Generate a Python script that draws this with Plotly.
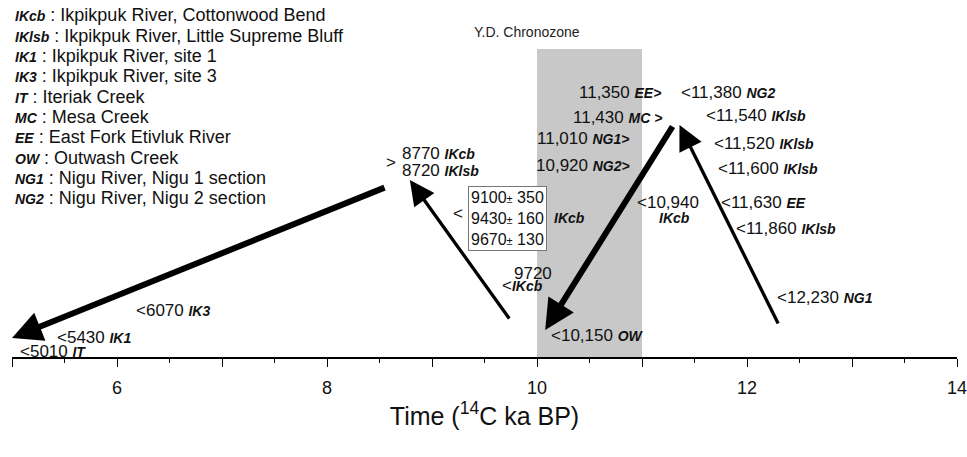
import plotly.graph_objects as go

# ---------------- data ----------------
# Age axis (14C ka BP)
x_range = [5, 14]
tick_vals = [5, 6, 7, 8, 9, 10, 11, 12, 13, 14]
tick_text = ["", "6", "", "8", "", "10", "", "12", "", "14"]

# Younger Dryas chronozone (ka)
yd_start = 10.0
yd_end = 11.0
yd_top = 308          # height of grey band (arbitrary vertical units)
yd_label_x = 9.907
yd_label_y = 325

# Arrows: tail -> tip (x in ka, y in arbitrary vertical units)
arrow_tail_x = [8.562, 9.746, 11.300, 12.304]
arrow_tail_y = [170, 37, 232, 32]
arrow_tip_x = [5.0, 8.789, 10.078, 11.357]
arrow_tip_y = [19, 177, 27, 232]
arrow_width = [6, 3.3, 6, 3.3]
arrow_size = [1.0, 1.5, 1.0, 1.5]

# Date labels: (number part, site part)
label_num = [">", "8770", "8720", "<", "", "9720", "<",
             "<6070", "<5430", "<5010", "<10,150",
             "<10,940", "", "11,350", "11,430", "11,010", "10,920",
             "<11,380", "<11,540", "<11,520", "<11,600", "<11,630",
             "<11,860", "<12,230"]
label_site = ["", "IKcb", "IKlsb", "", "IKcb", "", "IKcb",
              "IK3", "IK1", "IT", "OW",
              "", "IKcb", "EE>", "MC >", "NG1>", "NG2>",
              "NG2", "IKlsb", "IKlsb", "IKlsb", "EE",
              "IKlsb", "NG1"]
label_x = [8.543, 8.695, 8.695, 9.178, 10.144, 9.765, 9.651,
           6.165, 5.407, 5.057, 10.116,
           10.930, 11.139, 10.381, 10.324, 9.983, 9.973,
           11.357, 11.594, 11.670, 11.708, 11.736,
           11.878, 12.266]
label_y = [195, 204, 187, 144, 139, 84, 72,
           47, 20, 6, 22,
           155, 139, 265, 240, 219, 192,
           265, 242, 214, 189, 155,
           129, 60]

# Boxed IKcb dates
box_dates = ["9100", "9430", "9670"]
box_err = ["350", "160", "130"]
box_x = 9.718
box_y = 139

# Site key
key_code = ["IKcb", "IKlsb", "IK1", "IK3", "IT", "MC", "EE", "OW", "NG1", "NG2"]
key_name = ["Ikpikpuk River, Cottonwood Bend", "Ikpikpuk River, Little Supreme Bluff",
            "Ikpikpuk River, site 1", "Ikpikpuk River, site 3", "Iteriak Creek",
            "Mesa Creek", "East Fork Etivluk River", "Outwash Creek",
            "Nigu River, Nigu 1 section", "Nigu River, Nigu 2 section"]
key_x = 5.01
key_y = [342, 321, 301, 281, 260, 240, 220, 199, 179, 159]

# ---------------- figure ----------------
FONT = "Liberation Sans, Arial, sans-serif"
NUM_SIZE = 17
SITE_SIZE = 14


def esc(s):
    return s.replace("<", "&lt;").replace(">", "&gt;")


def site_html(s):
    if not s:
        return ""
    return '<b><i><span style="font-size:%dpx">%s</span></i></b>' % (SITE_SIZE, esc(s))


fig = go.Figure()

# invisible trace to establish axes
fig.add_trace(go.Scatter(x=x_range, y=[0, 0], mode="markers",
                         marker=dict(opacity=0), hoverinfo="skip", showlegend=False))

fig.add_shape(type="rect", x0=yd_start, x1=yd_end, y0=0, y1=yd_top,
              xref="x", yref="y", fillcolor="#c8c8c8", line=dict(width=0), layer="below")

annotations = []
annotations.append(dict(x=yd_label_x, y=yd_label_y, xref="x", yref="y",
                        text="Y.D. Chronozone", showarrow=False,
                        font=dict(family=FONT, size=14, color="#222")))

for tx, ty, hx, hy, w, s in zip(arrow_tail_x, arrow_tail_y, arrow_tip_x, arrow_tip_y,
                                arrow_width, arrow_size):
    annotations.append(dict(x=hx, y=hy, ax=tx, ay=ty, xref="x", yref="y",
                            axref="x", ayref="y", text="", showarrow=True,
                            arrowhead=2, arrowsize=s, arrowwidth=w,
                            arrowcolor="black", standoff=0))

for num, site, x, y in zip(label_num, label_site, label_x, label_y):
    txt = esc(num)
    if site:
        sep = "" if num in ("<", "") else " "
        txt = txt + sep + site_html(site)
    annotations.append(dict(x=x, y=y, xref="x", yref="y", text=txt,
                            showarrow=False, xanchor="left", yanchor="middle",
                            font=dict(family=FONT, size=NUM_SIZE, color="#111")))

box_lines = ['%s<span style="font-size:11px">±</span> %s' % (d, e)
             for d, e in zip(box_dates, box_err)]
annotations.append(dict(x=box_x, y=box_y, xref="x", yref="y", text="<br>".join(box_lines),
                        showarrow=False, xanchor="center", yanchor="middle", align="left",
                        bordercolor="#777", borderwidth=1, borderpad=2, bgcolor="white",
                        font=dict(family=FONT, size=16, color="#111")))

for code, name, y in zip(key_code, key_name, key_y):
    annotations.append(dict(x=key_x, y=y, xref="x", yref="y",
                            text=site_html(code) + " : " + name,
                            showarrow=False, xanchor="left", yanchor="middle",
                            font=dict(family=FONT, size=18, color="#111")))

fig.update_layout(
    width=967, height=457,
    margin=dict(l=12, r=5, t=0, b=100),
    paper_bgcolor="white", plot_bgcolor="white",
    annotations=annotations,
    showlegend=False,
    xaxis=dict(range=x_range, showline=True, linecolor="black", linewidth=1.5,
               showgrid=False, zeroline=False,
               tickvals=tick_vals, ticktext=tick_text, ticks="outside",
               ticklen=8, tickwidth=1.3, tickcolor="black",
               minor=dict(dtick=0.5, ticks="outside", ticklen=4, tickwidth=1, tickcolor="black",
                          showgrid=False),
               tickfont=dict(family=FONT, size=18, color="#111"),
               ticklabelstandoff=6, ticklabeloverflow="allow",
               title=dict(text="Time (<sup>14</sup>C ka BP)", standoff=8,
                          font=dict(family=FONT, size=25, color="#111"))),
    yaxis=dict(range=[0, 357], visible=False, showgrid=False, zeroline=False),
)

fig.write_html("out.html", config={"displayModeBar": False},
               post_script="document.body.style.margin='0';document.body.style.overflow='hidden';")
